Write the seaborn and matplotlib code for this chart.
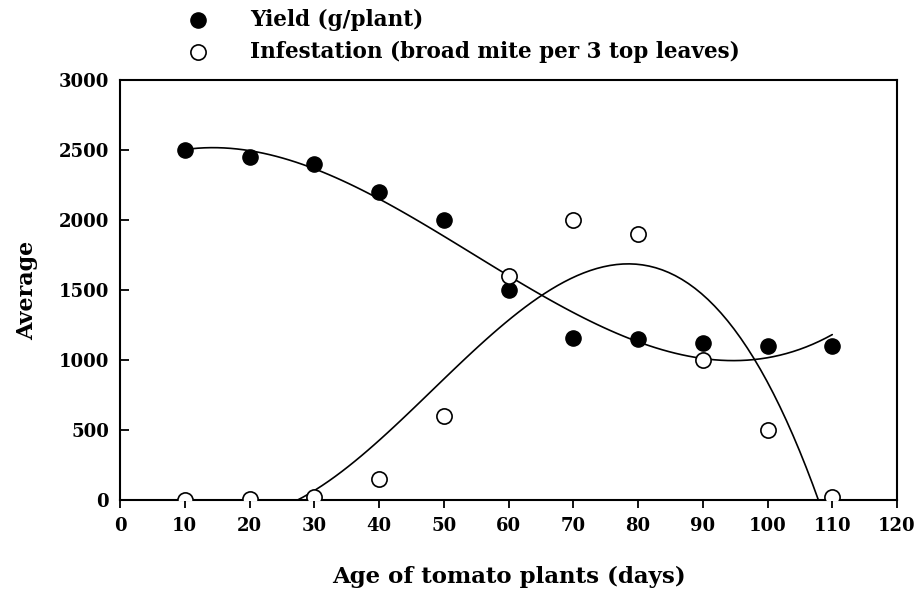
import matplotlib
matplotlib.use("Agg")
import matplotlib.pyplot as plt
import seaborn as sns
import pandas as pd

# values
days = [10, 20, 30, 40, 50, 60, 70, 80, 90, 100, 110]
yield_g = [2500, 2450, 2400, 2200, 2000, 1500, 1160, 1150, 1120, 1100, 1100]
infestation = [0, 10, 20, 150, 600, 1600, 2000, 1900, 1000, 500, 20]

x_ticks = list(range(0, 121, 10))
y_ticks = list(range(0, 3001, 500))

df = pd.DataFrame({"days": days, "yield": yield_g, "infest": infestation})

sns.set_style("ticks")
plt.rcParams["font.family"] = ["DejaVu Serif"]
plt.rcParams["font.weight"] = "bold"
for key in ["text.color", "axes.labelcolor", "xtick.color", "ytick.color"]:
    plt.rcParams[key] = "black"

fig = plt.figure(figsize=(9.17, 5.99), dpi=100)
ax = fig.add_axes([0.1309, 0.1653, 0.8473, 0.7011])

# cubic fits, like the original trend lines
line_kws = dict(color="black", lw=1.2, zorder=2)
sns.regplot(data=df, x="days", y="yield", order=3, ci=None, truncate=True,
            scatter=False, line_kws=line_kws, ax=ax)
sns.regplot(data=df, x="days", y="infest", order=3, ci=None, truncate=True,
            scatter=False, line_kws=line_kws, ax=ax)

sns.scatterplot(data=df, x="days", y="yield", s=120, color="black",
                edgecolor="black", linewidth=1.0, zorder=3, ax=ax,
                label="Yield (g/plant)")
sns.scatterplot(data=df, x="days", y="infest", s=120, color="white",
                edgecolor="black", linewidth=1.2, zorder=3, ax=ax,
                label="Infestation (broad mite per 3 top leaves)")

ax.set_xlim(0, 120)
ax.set_ylim(0, 3000)
ax.set_xticks(x_ticks)
ax.set_yticks(y_ticks)
ax.tick_params(axis="x", direction="out", length=5.5, width=1.3,
               labelsize=13, pad=7)
ax.tick_params(axis="y", direction="in", length=6.5, width=1.3,
               labelsize=13, pad=8)
for lab in ax.get_xticklabels() + ax.get_yticklabels():
    lab.set_fontweight("bold")
for sp in ax.spines.values():
    sp.set_linewidth(1.5)
    sp.set_color("black")

ax.set_xlabel("Age of tomato plants (days)", fontsize=16.5, fontweight="bold",
              labelpad=22)
ax.set_ylabel("Average", fontsize=16, fontweight="bold", labelpad=15)

ax.legend(loc="upper left", bbox_to_anchor=(0.061, 1.19), frameon=False,
          fontsize=15.5, handletextpad=1.45, labelspacing=0.45,
          borderaxespad=0, markerscale=1.0)

fig.savefig("out.png", dpi=100)
